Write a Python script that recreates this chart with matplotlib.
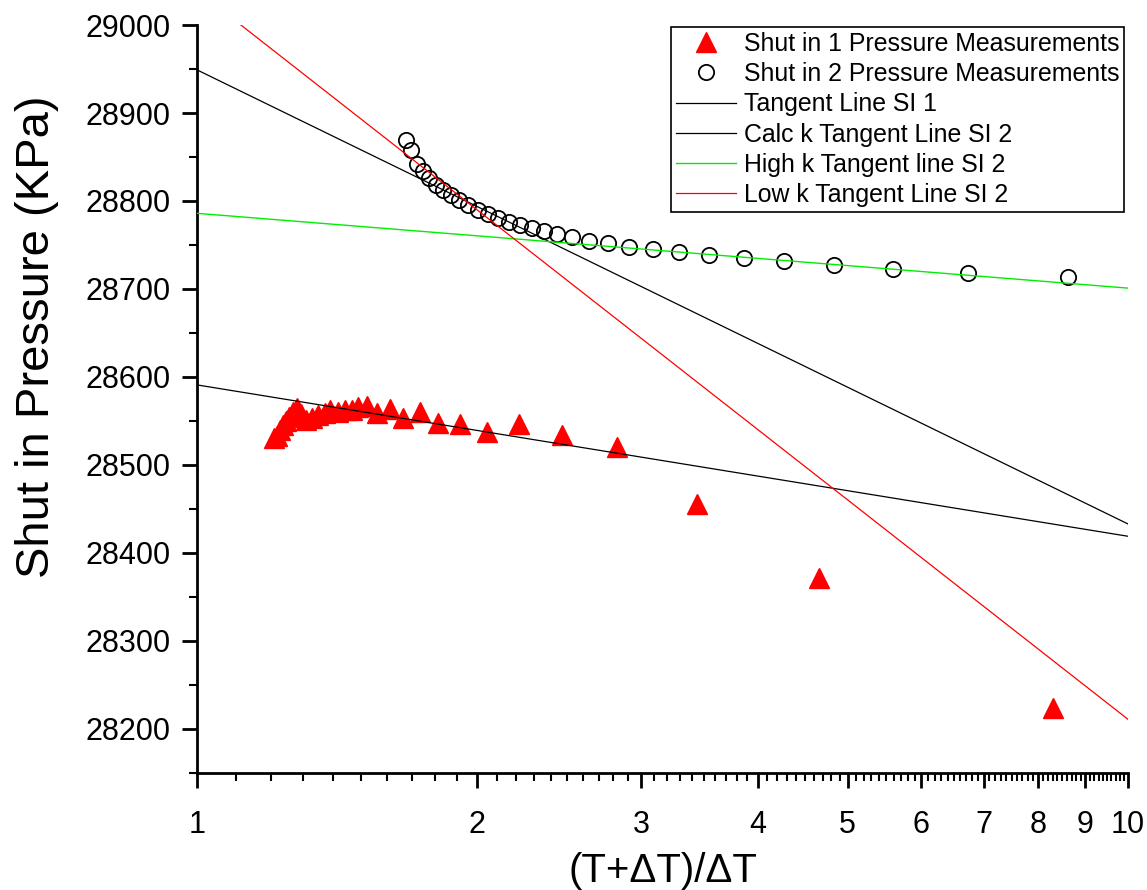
import matplotlib
matplotlib.use('Agg')
import matplotlib.pyplot as plt
from matplotlib.ticker import FixedLocator, FixedFormatter, NullFormatter, MultipleLocator

plt.rcParams['font.family'] = ['Liberation Sans', 'DejaVu Sans']

# Shut in 1 pressure measurements
si1_x = [1.210, 1.219, 1.228, 1.237, 1.246, 1.255, 1.268, 1.280, 1.293, 1.310,
         1.329, 1.349, 1.372, 1.389, 1.417, 1.442, 1.467, 1.489, 1.522, 1.561,
         1.612, 1.664, 1.736, 1.815, 1.917, 2.049, 2.218, 2.466, 2.826, 3.444,
         4.657, 8.308]
si1_p = [28531, 28533, 28540, 28545, 28550, 28555, 28560, 28565, 28558, 28551,
         28553, 28557, 28559, 28562, 28560, 28562, 28562, 28566, 28567, 28559,
         28564, 28553, 28560, 28548, 28547, 28537, 28547, 28534, 28520, 28456,
         28372, 28224]

# Shut in 2 pressure measurements
si2_x = [1.677, 1.698, 1.723, 1.749, 1.775, 1.806, 1.838, 1.874, 1.912, 1.955,
         2.004, 2.054, 2.106, 2.163, 2.223, 2.290, 2.359, 2.436, 2.528, 2.637,
         2.764, 2.911, 3.089, 3.294, 3.548, 3.869, 4.270, 4.833, 5.592, 6.732,
         8.622]
si2_p = [28869, 28858, 28842, 28834, 28826, 28818, 28812, 28807, 28801, 28795,
         28790, 28785, 28781, 28776, 28773, 28769, 28766, 28762, 28759, 28755,
         28752, 28748, 28745, 28742, 28739, 28735, 28732, 28727, 28723, 28718,
         28714]

# Tangent lines (end points at x = 1 and x = 10)
line_x = [1, 10]
tangent_si1 = [28591, 28419]
calc_k_si2 = [28949, 28433]
high_k_si2 = [28786, 28701]
low_k_si2 = [29039, 28211]

x_ticks = [1, 2, 3, 4, 5, 6, 7, 8, 9, 10]
x_tick_labels = ['1', '2', '3', '4', '5', '6', '7', '8', '9', '10']
y_ticks = [28200, 28300, 28400, 28500, 28600, 28700, 28800, 28900, 29000]

fig = plt.figure(figsize=(11.47, 8.9), dpi=100)
ax = fig.add_axes([0.1718, 0.1315, 0.8116, 0.8404])

ax.plot(si1_x, si1_p, linestyle='none', marker='^', ms=15, color='#ff0000',
        mec='#ff0000', label='Shut in 1 Pressure Measurements', zorder=2)
ax.plot(si2_x, si2_p, linestyle='none', marker='o', ms=11, mfc='none',
        mec='black', mew=1.3, label='Shut in 2 Pressure Measurements', zorder=2)
ax.plot(line_x, tangent_si1, color='black', lw=0.9, label='Tangent Line SI 1', zorder=3)
ax.plot(line_x, calc_k_si2, color='black', lw=0.9, label='Calc k Tangent Line SI 2', zorder=3)
ax.plot(line_x, high_k_si2, color='#00ee00', lw=1.0, label='High k Tangent line SI 2', zorder=3)
ax.plot(line_x, low_k_si2, color='#ff0000', lw=0.9, label='Low k Tangent Line SI 2', zorder=3)

ax.set_xscale('log')
ax.set_xlim(1, 10)
ax.set_ylim(28150, 29000)

ax.xaxis.set_major_locator(FixedLocator(x_ticks))
ax.xaxis.set_major_formatter(FixedFormatter(x_tick_labels))
minor = [i + j / 10 for i in range(1, 10) for j in range(1, 10)]
ax.xaxis.set_minor_locator(FixedLocator(minor))
ax.xaxis.set_minor_formatter(NullFormatter())
ax.yaxis.set_major_locator(FixedLocator(y_ticks))
ax.yaxis.set_minor_locator(MultipleLocator(50))

for s in ['top', 'right']:
    ax.spines[s].set_visible(False)
for s in ['left', 'bottom']:
    ax.spines[s].set_linewidth(2)

ax.tick_params(which='major', direction='out', length=11, width=2, labelsize=22)
ax.tick_params(which='minor', direction='out', length=6, width=1.5)
ax.tick_params(axis='y', which='major', pad=8)
ax.tick_params(axis='x', which='major', pad=16)

ax.set_xlabel('(T+\u0394T)/\u0394T', fontsize=29, labelpad=8)
ax.set_ylabel('Shut in Pressure (KPa)', fontsize=34)
ax.yaxis.set_label_coords(-0.148, 0.583)

leg = ax.legend(loc='upper right', bbox_to_anchor=(1124 / 1147, 1 - 27 / 890),
                bbox_transform=fig.transFigure, fontsize=17.9, frameon=True,
                fancybox=False, edgecolor='black', framealpha=1,
                handlelength=2.4, handletextpad=0.3, labelspacing=0.25,
                borderpad=0.2, borderaxespad=0)
leg.get_frame().set_linewidth(1.2)

fig.savefig('out.png', dpi=100)
